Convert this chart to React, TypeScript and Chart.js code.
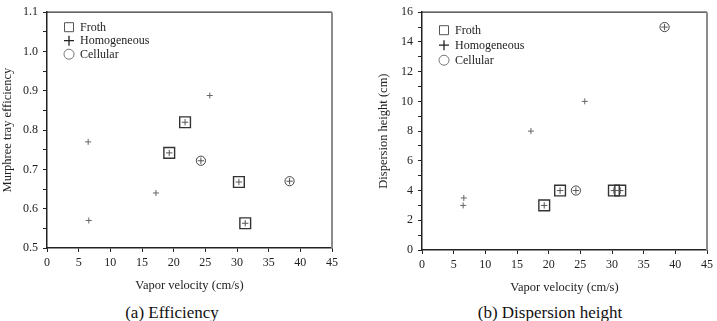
import { useEffect, useRef } from "react";
import { Chart, registerables } from "chart.js";

Chart.register(...registerables);

// Vapor velocities (cm/s) by flow regime
const homogeneousVelocity = [6.5, 6.6, 17.2, 25.7];
const frothVelocity = [19.3, 21.8, 30.3, 31.3];
const cellularVelocity = [24.3, 38.3];

// Murphree tray efficiency
const homogeneousEfficiency = [0.77, 0.57, 0.64, 0.888];
const frothEfficiency = [0.742, 0.82, 0.668, 0.563];
const cellularEfficiency = [0.722, 0.67];

// Dispersion height (cm)
const homogeneousHeight = [3.0, 3.5, 8, 10];
const frothHeight = [3, 4, 4, 4];
const cellularHeight = [4, 15];

const legendLabels = ["Froth", "Homogeneous", "Cellular"];

const SERIF = '"Liberation Serif"';
const INK = "#222";

const toPoints = (xs: number[], ys: number[]) => xs.map((x, i) => ({ x, y: ys[i] }));

// Top and right frame lines of the plot box
const framePlugin = {
  id: "frame",
  afterDraw(chart: any) {
    const { ctx, chartArea } = chart;
    const { left, right, top, bottom } = chartArea;
    ctx.save();
    ctx.strokeStyle = "#333";
    ctx.lineWidth = 1.2;
    ctx.beginPath();
    ctx.moveTo(left, top);
    ctx.lineTo(right, top);
    ctx.stroke();
    ctx.strokeStyle = "#8c8c8c";
    ctx.lineWidth = 2;
    ctx.beginPath();
    ctx.moveTo(right, top);
    ctx.lineTo(right, bottom);
    ctx.stroke();
    ctx.restore();
  },
};

// Regime legend drawn inside the plot's upper-left corner
const insideLegendPlugin = {
  id: "insideLegend",
  afterDraw(chart: any, _args: any, opts: any) {
    const { ctx, chartArea } = chart;
    const x0 = chartArea.left + (opts.dx ?? 17);
    let y = chartArea.top + (opts.dy ?? 15);
    const gap = opts.gap ?? 14;
    ctx.save();
    ctx.font = `12px ${SERIF}`;
    ctx.textBaseline = "middle";
    ctx.fillStyle = INK;
    legendLabels.forEach((label, i) => {
      const cx = x0 + 5;
      ctx.beginPath();
      if (i === 0) {
        ctx.strokeStyle = "#555";
        ctx.lineWidth = 1;
        ctx.rect(x0 + 0.5, y - 4.5, 9, 9);
      } else if (i === 1) {
        ctx.strokeStyle = "#222";
        ctx.lineWidth = 1.3;
        ctx.moveTo(x0, y);
        ctx.lineTo(x0 + 10, y);
        ctx.moveTo(cx, y - 5);
        ctx.lineTo(cx, y + 5);
      } else {
        ctx.strokeStyle = "#777";
        ctx.lineWidth = 1;
        ctx.arc(cx, y, 5, 0, Math.PI * 2);
      }
      ctx.stroke();
      ctx.fillText(label, x0 + 16, y + 0.5);
      y += gap;
    });
    ctx.restore();
  },
};

type PanelProps = {
  left: number;
  width: number;
  padLeft: number;
  padRight: number;
  padBottom: number;
  yAxisWidth: number;
  yMin: number;
  yMax: number;
  yStep: number;
  yLabel: (v: number) => string;
  yTitle: string;
  homogeneous: number[];
  froth: number[];
  cellular: number[];
  legend: { dx: number; dy: number; gap: number };
};

function Panel(p: PanelProps) {
  const ref = useRef<HTMLCanvasElement | null>(null);

  useEffect(() => {
    let chart: Chart | null = null;
    let cancelled = false;

    const build = () => {
      if (cancelled || !ref.current) return;
      const tickFont = { family: SERIF, size: 12 };
      const titleFont = { family: SERIF, size: 12.5 };
      const frothPts = toPoints(frothVelocity, p.froth);
      const cellPts = toPoints(cellularVelocity, p.cellular);
      const homPts = toPoints(homogeneousVelocity, p.homogeneous);

      chart = new Chart(ref.current, {
        type: "scatter",
        data: {
          datasets: [
            {
              label: "Homogeneous",
              data: homPts,
              pointStyle: "cross",
              radius: 3,
              borderColor: "#666",
              borderWidth: 1,
            },
            {
              label: "Froth +",
              data: frothPts,
              pointStyle: "cross",
              radius: 3.2,
              borderColor: "#555",
              borderWidth: 1,
            },
            {
              label: "Cellular +",
              data: cellPts,
              pointStyle: "cross",
              radius: 3.2,
              borderColor: "#555",
              borderWidth: 1,
            },
            {
              label: "Froth",
              data: frothPts,
              pointStyle: "rect",
              radius: 7.6,
              borderColor: "#333",
              borderWidth: 1.4,
              backgroundColor: "rgba(0,0,0,0)",
            },
            {
              label: "Cellular",
              data: cellPts,
              pointStyle: "circle",
              radius: 4.6,
              borderColor: "#444",
              borderWidth: 1,
              backgroundColor: "rgba(0,0,0,0)",
            },
          ],
        },
        options: {
          animation: false,
          responsive: false,
          events: [],
          layout: {
            padding: { left: p.padLeft, right: p.padRight, top: 10, bottom: p.padBottom },
          },
          plugins: {
            legend: { display: false },
            tooltip: { enabled: false },
            insideLegend: p.legend,
          } as any,
          scales: {
            x: {
              type: "linear",
              min: 0,
              max: 45,
              ticks: {
                stepSize: 5,
                font: tickFont,
                color: INK,
                padding: 4,
                maxRotation: 0,
                autoSkip: false,
              },
              grid: {
                drawOnChartArea: false,
                tickLength: 4,
                tickColor: INK,
                color: INK,
              },
              border: { color: INK, width: 1.5 },
              title: {
                display: true,
                text: "Vapor velocity (cm/s)",
                font: titleFont,
                color: INK,
                padding: { top: 0, bottom: 0 },
              },
              afterFit: (s: any) => {
                s.height = 45;
              },
            },
            y: {
              type: "linear",
              min: p.yMin,
              max: p.yMax,
              ticks: {
                stepSize: p.yStep,
                font: tickFont,
                color: INK,
                padding: 5,
                autoSkip: false,
                callback: (v: any) => p.yLabel(Number(v)),
              },
              grid: {
                drawOnChartArea: false,
                tickLength: 4,
                tickColor: INK,
                color: INK,
              },
              border: { color: INK, width: 1.5 },
              title: {
                display: true,
                text: p.yTitle,
                font: titleFont,
                color: INK,
                padding: { top: 0, bottom: 0 },
              },
              afterFit: (s: any) => {
                s.width = p.yAxisWidth;
              },
            },
          },
        } as any,
        plugins: [framePlugin, insideLegendPlugin],
      });
    };

    // Make sure the serif face is ready before the canvas text is drawn
    const fonts: any = (document as any).fonts;
    if (fonts && fonts.load) {
      fonts.load(`12px ${SERIF}`).then(build, build);
    } else {
      build();
    }

    return () => {
      cancelled = true;
      if (chart) chart.destroy();
    };
  }, []);

  return (
    <canvas
      ref={ref}
      width={p.width}
      height={300}
      style={{ position: "absolute", left: p.left, top: 0, width: p.width, height: 300 }}
    />
  );
}

const captionStyle = (center: number): any => ({
  position: "absolute",
  left: center - 120,
  width: 240,
  top: 303,
  textAlign: "center",
  fontFamily: SERIF,
  fontSize: 17,
  lineHeight: "19px",
  color: "#111",
  whiteSpace: "nowrap",
});

export default function App() {
  return (
    <div
      style={{
        position: "fixed",
        left: 0,
        top: 0,
        width: 717,
        height: 321,
        background: "#fff",
        overflow: "hidden",
      }}
    >
      <Panel
        left={0}
        width={358}
        padLeft={0}
        padRight={26}
        padBottom={7}
        yAxisWidth={47}
        yMin={0.5}
        yMax={1.1}
        yStep={0.05}
        yLabel={(v) => (Math.round(v * 100) % 10 === 0 ? v.toFixed(1) : "")}
        yTitle="Murphree tray efficiency"
        homogeneous={homogeneousEfficiency}
        froth={frothEfficiency}
        cellular={cellularEfficiency}
        legend={{ dx: 17, dy: 15, gap: 13.5 }}
      />
      <Panel
        left={358}
        width={359}
        padLeft={18}
        padRight={8}
        padBottom={5}
        yAxisWidth={46}
        yMin={0}
        yMax={16}
        yStep={1}
        yLabel={(v) => (Math.round(v) % 2 === 0 ? String(Math.round(v)) : "")}
        yTitle="Dispersion height (cm)"
        homogeneous={homogeneousHeight}
        froth={frothHeight}
        cellular={cellularHeight}
        legend={{ dx: 17, dy: 18, gap: 15 }}
      />
      <div style={captionStyle(172)}>(a) Efficiency</div>
      <div style={captionStyle(550)}>(b) Dispersion height</div>
    </div>
  );
}
